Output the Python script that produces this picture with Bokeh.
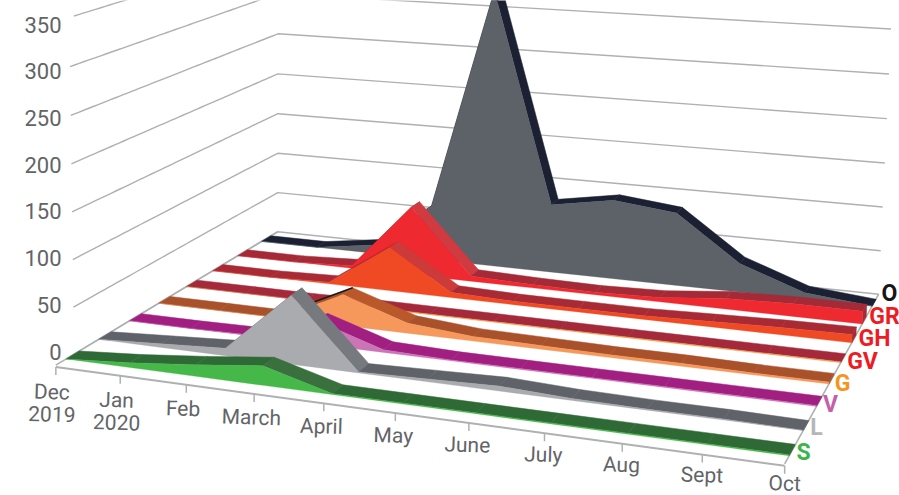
import numpy as np
from bokeh.plotting import figure
from bokeh.core.properties import value
from bokeh.embed import file_html
from bokeh.resources import INLINE

# Monthly series, one list per ribbon, back to front
months = ["Dec", "Jan", "Feb", "March", "April", "May", "June", "July", "Aug", "Sept", "Oct"]
month_years = {"Dec": "2019", "Jan": "2020"}
O_vals = [0, 0, 10, 65, 326, 80, 92, 84, 33, 7, 0]
GR_vals = [0, 0, 3, 80, 6, 4, 3, 5, 12, 14, 14]
GH_vals = [0, 0, 2, 50, 6, 4, 4, 4, 6, 8, 9]
GV_vals = [0, 0, 0, 1, 1, 1, 1, 1, 1, 1, 1]
G_vals = [0, 0, 0, 34, 11, 5, 4, 3, 3, 2, 2]
V_vals = [0, 0, 1, 25, 3, 1, 1, 1, 1, 1, 1]
L_vals = [0, 4, 8, 72, 1, 3, 5, 2, 1, 1, 0]
S_vals = [0, 5, 12, 20, 1, 1, 1, 1, 1, 1, 1]
y_ticks = [0, 50, 100, 150, 200, 250, 300, 350]

series = [
    ("O", O_vals, "#5d6168", "#1b2133", "#1b2133", "#161616"),
    ("GR", GR_vals, "#ee2a30", "#a32a36", "#cf3b40", "#ed1c24"),
    ("GH", GH_vals, "#f04a25", "#a82a35", "#cc3a3a", "#ed1c24"),
    ("GV", GV_vals, "#f0a050", "#a4293a", "#a4293a", "#ed1c24"),
    ("G", G_vals, "#f6985c", "#a8512a", "#b9582a", "#f7941d"),
    ("V", V_vals, "#cb74b6", "#a01f80", "#a01f80", "#c45fa8"),
    ("L", L_vals, "#a9abaf", "#5f6369", "#767a7f", "#b5b6b8"),
    ("S", S_vals, "#46b84a", "#2f6a36", "#3a6f3e", "#3cb54a"),
]

# Camera calibration: (month, depth, level) -> page position
camera_refs = [
    (0, 0, 0, 55, 365), (10, 0, 0, 783, 463), (0, 1, 0, 278, 230), (10, 1, 0, 878, 292),
    (5, 0, 0, 395, 411), (2, 0, 0, 184, 384), (8, 0, 0, 622, 442),
    (0, 1, 100, 278, 154), (0, 1, 250, 275, 34), (10, 1, 100, 883, 206), (10, 1, 300, 891, 30),
    (0, 0, 50, 56, 317), (0, 0, 250, 53, 119),
]


def fit_camera(refs):
    rows, rhs = [], []
    for u, v, z, x, y in refs:
        u, z, x, y = u / 10, z / 100, x / 1000, y / 1000
        rows.append([u, v, z, 1, 0, 0, 0, 0, -u * x, -v * x, -z * x])
        rows.append([0, 0, 0, 0, u, v, z, 1, -u * y, -v * y, -z * y])
        rhs += [x, y]
    sol = np.linalg.lstsq(np.array(rows), np.array(rhs), rcond=None)[0]
    return np.append(sol, 1).reshape(3, 4)


CAM = fit_camera(camera_refs)


def project(u, v, z):
    u, v, z = np.broadcast_arrays(np.asarray(u, float), np.asarray(v, float), np.asarray(z, float))
    pts = np.stack([u / 10, v, z / 100, np.ones_like(u, dtype=float)])
    w = CAM @ pts
    return w[0] / w[2] * 1000, w[1] / w[2] * 1000


p = figure(width=899, height=495, x_range=(0, 899), y_range=(495, 0), output_backend="svg",
           toolbar_location=None, min_border=0, outline_line_color=None)
p.axis.visible = False
p.grid.visible = False
p.background_fill_color = "white"

GRID = "#aeb0b2"
# Wall gridlines, trimmed where the left wall meets the value labels
for t in y_ticks:
    vs = np.linspace(0, 1, 60)
    x, y = project(0, vs, t)
    keep = x >= 69
    xb, yb = project(10, 1, t)
    p.line(list(x[keep]) + [float(xb)], list(y[keep]) + [float(yb)], line_color=GRID, line_width=1.4)

# Floor edges
for a, b in [((0, 0), (0, 1)), ((10, 0), (10, 1))]:
    x, y = project([a[0], b[0]], [a[1], b[1]], 0)
    p.line(x, y, line_color=GRID, line_width=1.6)

# Ribbons are painted from the back row forward
n = len(series)
for i, (name, vals, face, top, slope, _) in enumerate(series):
    row = n - 1 - i
    v0, v1 = (row + 0.3) / n, (row + 0.7) / n
    us = np.arange(len(vals))
    vals = np.array(vals, float)
    for k in range(len(vals) - 1):
        seg_u = [k, k + 1, k + 1, k]
        seg_v = [v0, v0, v1, v1]
        seg_z = [vals[k], vals[k + 1], vals[k + 1], vals[k]]
        sx, sy = project(seg_u, seg_v, seg_z)
        c = slope if vals[k] - vals[k + 1] > 15 else top
        p.patch(sx, sy, fill_color=c, line_color=c, line_width=0.5)
    if name == "G":
        ex, ey = project([2, 3], [v1, v1], [vals[2], vals[3]])
        p.line(ex, ey, line_color="#1a1a1a", line_width=1.5)
    cx, cy = project([10, 10, 10, 10], [v0, v1, v1, v0], [0, 0, vals[-1], vals[-1]])
    p.patch(cx, cy, fill_color=top, line_color=top, line_width=0.5)
    fx, fy = project(us, v0, vals)
    bx, by = project(us, v0, 0)
    p.patch(np.r_[fx, bx[::-1]], np.r_[fy, by[::-1]], fill_color=face, line_color=face, line_width=0.3)

# Front axis with ticks hanging below it
ax, ay = project([0, 10], 0, 0)
p.line(ax, ay + 2, line_color=GRID, line_width=2)
tick_u = np.arange(len(months))
tx, ty = project(tick_u, 0, 0)
for x, y in zip(tx, ty):
    p.line([x, x], [y + 2, y + 10], line_color=GRID, line_width=1.5)

FONT = value("Roboto")
GREY = "#636467"
# Month labels drift toward their ticks along the axis; the last stays inside the page
lx = tx - 4 + 0.4 * tick_u
ly = np.minimum(ty + 27 - 0.5 * tick_u, 483)
p.text(lx, ly, text=months, text_font=FONT, text_font_size="21px", text_color=GREY,
       text_align="center", text_baseline="middle", angle=-0.03)
yr = [i for i, m in enumerate(months) if m in month_years]
p.text(lx[yr], ly[yr] + 22, text=[month_years[months[i]] for i in yr], text_font=FONT,
       text_font_size="21px", text_color=GREY, text_align="center", text_baseline="middle", angle=-0.03)

# Value labels
label_y = 351 - np.array(y_ticks) * 46.7 / 50
p.text([61] * len(y_ticks), label_y, text=[str(t) for t in y_ticks], text_font=FONT,
       text_font_size="22px", text_color=GREY, text_align="right", text_baseline="middle")

# Row labels along the right floor edge
row_label_x = [889, 884, 874, 862, 842, 830, 816, 803]
row_label_y = [293, 316, 338, 361, 383, 404, 427, 452]
p.text(row_label_x, row_label_y, text=[s[0] for s in series], text_font=FONT, text_font_style="bold",
       text_font_size="23px", text_color=[s[5] for s in series], text_align="center", text_baseline="middle")

open("out.html", "w").write(file_html(p, INLINE))
